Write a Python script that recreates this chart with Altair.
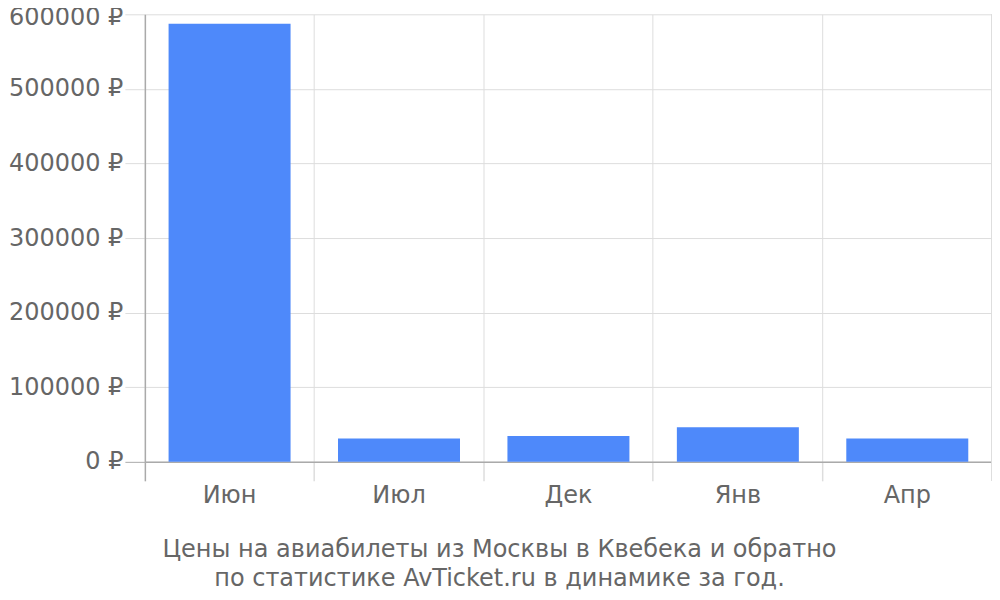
import altair as alt
import pandas as pd

months = ["Июн", "Июл", "Дек", "Янв", "Апр"]
prices = [587300, 31300, 34800, 46500, 31300]

df = pd.DataFrame({"month": months, "price": prices})

FONT = "DejaVu Sans"
TXT = "#666666"
PAD_IN = 0.28

bars = alt.Chart(df).mark_bar(color="#4E89FA").encode(
    x=alt.X("month:N", sort=months, title=None,
            scale=alt.Scale(paddingInner=PAD_IN, paddingOuter=PAD_IN / 2),
            axis=alt.Axis(labelAngle=0, labelFont=FONT, labelFontSize=24,
                          labelColor=TXT, labelPadding=3,
                          bandPosition=-(PAD_IN / 2) / (1 - PAD_IN),
                          grid=True, gridColor="#dddddd",
                          tickColor={"condition": {"test": "datum.value === 'Июн'", "value": "#aaaaaa"}, "value": "#dddddd"},
                          tickSize=19, tickWidth=1.5,
                          domainColor="#aaaaaa", domainWidth=1.5)),
    y=alt.Y("price:Q", title=None,
            scale=alt.Scale(domain=[0, 600000]),
            axis=alt.Axis(values=[0, 100000, 200000, 300000, 400000, 500000, 600000],
                          labelExpr="datum.value + ' ₽'",
                          labelFont=FONT, labelFontSize=24, labelColor=TXT,
                          labelPadding=2,
                          labelOffset={"condition": {"test": "datum.value === 600000", "value": 3}, "value": 0},
                          gridColor="#dddddd", tickSize=20,
                          tickColor={"condition": {"test": "datum.value === 0", "value": "#aaaaaa"}, "value": "#dddddd"},
                          domainColor="#aaaaaa", domainWidth=1.5)),
)

edge = alt.Chart(df).mark_rule(color="#dddddd", strokeWidth=1).encode(
    x=alt.value(848), y=alt.value(0), y2=alt.value(467)
)

chart = alt.layer(bars, edge).properties(
    width=848,
    height=448,
    autosize=alt.AutoSizeParams(type="none"),
    padding={"left": 137, "top": 6, "right": 0, "bottom": 130},
    title=alt.TitleParams(
        text=["Цены на авиабилеты из Москвы в Квебека и обратно",
              "по статистике AvTicket.ru в динамике за год."],
        orient="bottom", anchor="middle", frame="group",
        font=FONT, fontSize=24, fontWeight="normal", color=TXT,
        offset=30, lineHeight=29, dx=-69,
    ),
).configure_view(stroke=None)

chart.save("out.html", embed_options={"renderer": "svg", "actions": False})
